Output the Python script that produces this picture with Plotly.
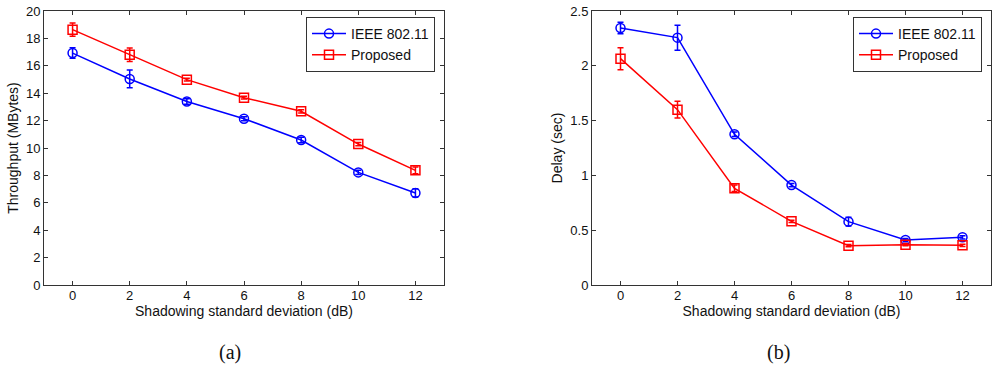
import plotly.graph_objects as go

x_db = [0, 2, 4, 6, 8, 10, 12]

thr_ieee = [16.93, 15.04, 13.40, 12.14, 10.58, 8.22, 6.72]
thr_ieee_err = [0.38, 0.65, 0.20, 0.15, 0.20, 0.15, 0.30]
thr_prop = [18.64, 16.81, 14.99, 13.67, 12.68, 10.29, 8.37]
thr_prop_err = [0.49, 0.49, 0.10, 0.10, 0.12, 0.12, 0.25]

del_ieee = [2.345, 2.257, 1.375, 0.912, 0.578, 0.410, 0.435]
del_ieee_err = [0.052, 0.114, 0.02, 0.015, 0.04, 0.015, 0.015]
del_prop = [2.065, 1.600, 0.882, 0.581, 0.359, 0.368, 0.362]
del_prop_err = [0.10, 0.077, 0.03, 0.01, 0.01, 0.01, 0.01]

series_names = ["IEEE 802.11", "Proposed"]
x_ticks = [0, 2, 4, 6, 8, 10, 12]
thr_ticks = [0, 2, 4, 6, 8, 10, 12, 14, 16, 18, 20]
del_ticks = [0, 0.5, 1, 1.5, 2, 2.5]
del_tick_text = ["0", "0.5", "1", "1.5", "2", "2.5"]

BLUE = "#0000ff"
RED = "#ff0000"
FONT = "Liberation Sans, Arial, sans-serif"

fig = go.Figure()

def add(x, y, err, name, color, symbol, xa, ya, legend):
    fig.add_trace(go.Scatter(
        x=x, y=y, name=name, mode="lines+markers",
        line=dict(color=color, width=1.5),
        marker=dict(symbol=symbol, size=9, color=color,
                    line=dict(color=color, width=1.5)),
        error_y=dict(type="data", array=err, visible=True, color=color,
                     thickness=1.5, width=3),
        xaxis=xa, yaxis=ya, legend=legend,
    ))

add(x_db, thr_ieee, thr_ieee_err, series_names[0], BLUE, "circle-open", "x", "y", "legend")
add(x_db, thr_prop, thr_prop_err, series_names[1], RED, "square-open", "x", "y", "legend")
add(x_db, del_ieee, del_ieee_err, series_names[0], BLUE, "circle-open", "x2", "y2", "legend2")
add(x_db, del_prop, del_prop_err, series_names[1], RED, "square-open", "x2", "y2", "legend2")

ydom = [1 - 285 / 368, 1 - 11 / 368]
axis_common = dict(showline=True, mirror="allticks", linecolor="#333333", linewidth=1,
                   ticks="inside", ticklen=4, tickcolor="#333333", showgrid=False,
                   zeroline=False, automargin=False,
                   tickfont=dict(family=FONT, size=13, color="#111111"))

legend_common = dict(bgcolor="white", bordercolor="#333333", borderwidth=1,
                     font=dict(family=FONT, size=14, color="#111111"),
                     xanchor="right", yanchor="top", tracegroupgap=0,
                     itemwidth=34)

fig.update_layout(
    width=1000, height=368,
    margin=dict(l=0, r=0, t=0, b=0),
    paper_bgcolor="white", plot_bgcolor="white",
    font=dict(family=FONT, size=13, color="#111111"),
    xaxis=dict(domain=[44 / 1000, 444 / 1000], range=[-1, 13], tickvals=x_ticks,
               title=dict(text="Shadowing standard deviation (dB)", standoff=0,
                          font=dict(family=FONT, size=14)),
               anchor="y", ticklabelstandoff=-2, **axis_common),
    yaxis=dict(domain=ydom, range=[0, 20], tickvals=thr_ticks,
               title=dict(text="Throughput (MBytes)", standoff=4,
                          font=dict(family=FONT, size=14)),
               anchor="x", **axis_common),
    xaxis2=dict(domain=[592 / 1000, 991 / 1000], range=[-1, 13], tickvals=x_ticks,
                title=dict(text="Shadowing standard deviation (dB)", standoff=0,
                           font=dict(family=FONT, size=14)),
                anchor="y2", ticklabelstandoff=-2, **axis_common),
    yaxis2=dict(domain=ydom, range=[0, 2.5], tickvals=del_ticks, ticktext=del_tick_text,
                title=dict(text="Delay (sec)", standoff=4,
                           font=dict(family=FONT, size=14)),
                anchor="x2", **axis_common),
    legend=dict(x=435 / 1000, y=1 - 17 / 368, **legend_common),
    legend2=dict(x=982 / 1000, y=1 - 17 / 368, **legend_common),
    annotations=[
        dict(text="(a)", x=230 / 1000, y=1 - 352 / 368, xref="paper", yref="paper",
             xanchor="center", yanchor="middle", showarrow=False,
             font=dict(family="Liberation Serif, Times New Roman, serif", size=20, color="#111111")),
        dict(text="(b)", x=778 / 1000, y=1 - 352 / 368, xref="paper", yref="paper",
             xanchor="center", yanchor="middle", showarrow=False,
             font=dict(family="Liberation Serif, Times New Roman, serif", size=20, color="#111111")),
    ],
)

fig.write_html("out.html", config={"displayModeBar": False},
               post_script="document.body.style.margin='0';document.body.style.overflow='hidden';")
